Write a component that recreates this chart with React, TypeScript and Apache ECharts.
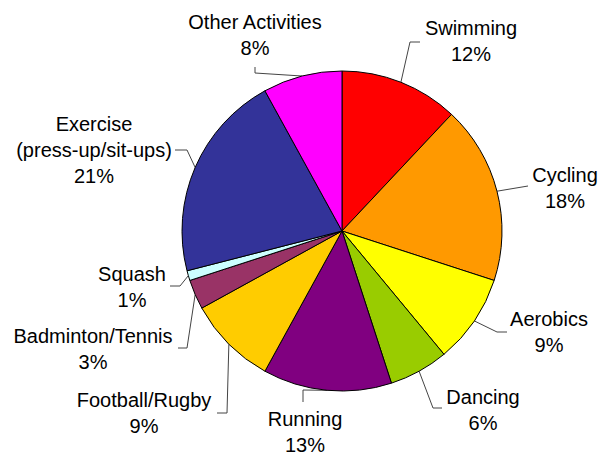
import React, { useEffect, useRef } from "react";
import * as echarts from "echarts";

const categories = [
  "Swimming",
  "Cycling",
  "Aerobics",
  "Dancing",
  "Running",
  "Football/Rugby",
  "Badminton/Tennis",
  "Squash",
  "Exercise\n(press-up/sit-ups)",
  "Other Activities",
];
const shares = [12, 18, 9, 6, 13, 9, 3, 1, 21, 8];
const colors = [
  "#FF0000",
  "#FF9900",
  "#FFFF00",
  "#99CC00",
  "#800080",
  "#FFCC00",
  "#993366",
  "#CCFFFF",
  "#333399",
  "#FF00FF",
];

// label layout: text block centre and leader-line elbow points
const labelCentres: [number, number][] = [
  [471, 41],
  [565, 188],
  [549, 332],
  [483, 410],
  [305, 432],
  [144, 413],
  [93, 349],
  [132, 287],
  [94, 150],
  [255, 35],
];
const leaderElbows: [number, number][][] = [
  [[410, 42], [420, 42]],
  [[528, 186], [528, 186]],
  [[497, 332], [507, 332]],
  [[433, 408], [442, 408]],
  [[303, 390], [303, 402]],
  [[227, 413], [217, 413]],
  [[187, 348], [178, 348]],
  [[180, 286], [170, 286]],
  [[187, 150], [175, 150]],
  [[255, 73], [255, 67]],
];

const CX = 342;
const CY = 231;
const R = 160;

export default function App() {
  const ref = useRef<HTMLDivElement>(null);
  useEffect(() => {
    if (!ref.current) return;
    const chart = echarts.init(ref.current, null, { renderer: "svg" });
    const total = shares.reduce((a, b) => a + b, 0);
    const mids: number[] = [];
    let acc = 0;
    shares.forEach((v) => {
      mids.push(((acc + v / 2) / total) * Math.PI * 2);
      acc += v;
    });
    chart.setOption({
      animation: false,
      backgroundColor: "#ffffff",
      series: [
        {
          type: "pie",
          center: [CX, CY],
          radius: R,
          startAngle: 90,
          clockwise: true,
          avoidLabelOverlap: false,
          data: categories.map((name, i) => ({
            name,
            value: shares[i],
            itemStyle: { color: colors[i] },
          })),
          itemStyle: { borderColor: "#000000", borderWidth: 1 },
          label: {
            show: true,
            position: "outside",
            formatter: (p: any) => `${p.name}\n${p.value}%`,
            fontFamily: "Liberation Sans, Arial, sans-serif",
            fontSize: 20,
            lineHeight: 26,
            color: "#000000",
            align: "center",
          },
          labelLine: {
            show: true,
            length: 10,
            length2: 10,
            lineStyle: { color: "#444444", width: 1 },
          },
          emphasis: { disabled: true },
          labelLayout: (params: any) => {
            const i = params.dataIndex;
            const a = mids[i];
            const start = [CX + R * Math.sin(a), CY - R * Math.cos(a)];
            const [x, y] = labelCentres[i];
            return {
              x,
              y,
              align: "center",
              verticalAlign: "middle",
              labelLinePoints: [start, leaderElbows[i][0], leaderElbows[i][1]],
            };
          },
        },
      ],
    });
    return () => chart.dispose();
  }, []);
  return (
    <div
      ref={ref}
      style={{ position: "fixed", left: 0, top: 0, width: 599, height: 452 }}
    />
  );
}
